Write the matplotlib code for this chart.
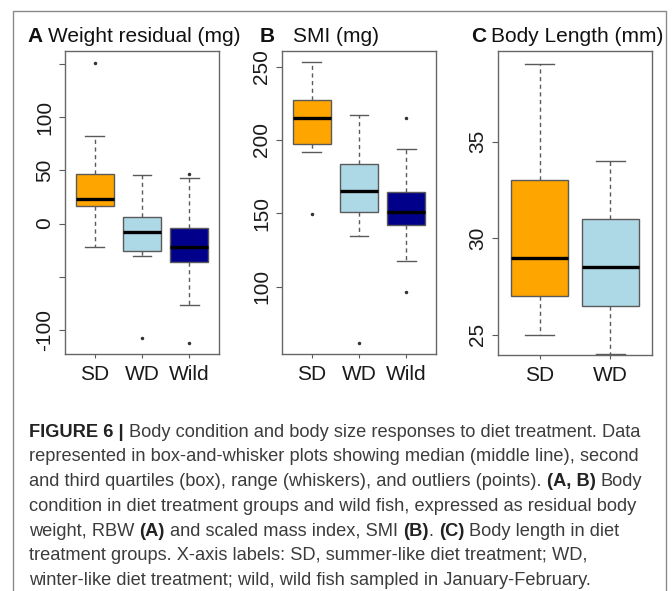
import matplotlib
matplotlib.use("Agg")
import matplotlib.pyplot as plt
from matplotlib.patches import Rectangle

plt.rcParams['font.family'] = ['Liberation Sans', 'DejaVu Sans']

# ---------------- data ----------------
labels_AB = ['SD', 'WD', 'Wild']
labels_C = ['SD', 'WD']
colors_AB = ['#FFA500', '#ADD8E6', '#00008B']
colors_C = ['#FFA500', '#ADD8E6']

A_med = [23.4, -7.5, -22.2]
A_q1 = [16.5, -26.0, -36.3]
A_q3 = [46.2, 6.5, -4.4]
A_lo = [-21.9, -30.7, -76.9]
A_hi = [81.9, 45.6, 43.1]
A_fliers = [[151.0], [-107.3], [46.5, -112.6]]

B_med = [215.0, 165.2, 151.1]
B_q1 = [197.1, 150.7, 141.8]
B_q3 = [227.1, 183.4, 164.3]
B_lo = [192.0, 134.7, 117.7]
B_hi = [253.0, 217.0, 193.9]
B_fliers = [[149.3], [61.3], [215.0, 96.6]]

C_med = [29.0, 28.5]
C_q1 = [27.0, 26.5]
C_q3 = [33.0, 31.0]
C_lo = [25.0, 24.0]
C_hi = [39.0, 34.0]
C_fliers = [[], []]

A_ticks = [-100, -50, 0, 50, 100, 150]
A_ticklabels = ['-100', '', '0', '50', '100', '']
B_ticks = [100, 150, 200, 250]
B_ticklabels = ['100', '150', '200', '250']
C_ticks = [25, 30, 35]
C_ticklabels = ['25', '30', '35']

caption_lines = [
    [("FIGURE 6 |", True), (" Body condition and body size responses to diet treatment. Data", False)],
    [("represented in box-and-whisker plots showing median (middle line), second", False)],
    [("and third quartiles (box), range (whiskers), and outliers (points). ", False), ("(A, B)", True), (" Body", False)],
    [("condition in diet treatment groups and wild fish, expressed as residual body", False)],
    [("weight, RBW ", False), ("(A)", True), (" and scaled mass index, SMI ", False), ("(B)", True), (". ", False),
     ("(C)", True), (" Body length in diet", False)],
    [("treatment groups. X-axis labels: SD, summer-like diet treatment; WD,", False)],
    [("winter-like diet treatment; wild, wild fish sampled in January-February.", False)],
]

# ---------------- figure ----------------
W, H = 672, 591
fig = plt.figure(figsize=(W / 100, H / 100), dpi=100)


def fx(px):
    return px / W


def fy(py):
    return 1 - py / H


# outer frame
fig.patches.append(Rectangle((fx(13), -0.1), fx(666) - fx(13), fy(11) + 0.1,
                             transform=fig.transFigure, fill=False,
                             edgecolor='#8a8a8a', linewidth=1.0, clip_on=False))

GRAY = '#5a5a5a'


def panel(rect, med, q1, q3, lo, hi, fliers, labels, colors, ylim, xlim, ticks, ticklabels):
    l, t, r, b = rect
    ax = fig.add_axes([fx(l), fy(b), fx(r) - fx(l), fy(t) - fy(b)])
    stats = []
    for i in range(len(med)):
        stats.append(dict(med=med[i], q1=q1[i], q3=q3[i], whislo=lo[i], whishi=hi[i],
                          fliers=fliers[i], label=labels[i]))
    bp = ax.bxp(stats, positions=list(range(1, len(med) + 1)), widths=0.8,
                patch_artist=True, capwidths=0.4,
                boxprops=dict(edgecolor=GRAY, linewidth=1.0),
                whiskerprops=dict(color=GRAY, linewidth=1.0, linestyle=(0, (3, 2.5))),
                capprops=dict(color=GRAY, linewidth=1.0),
                medianprops=dict(color='black', linewidth=2.4, solid_capstyle='butt'),
                flierprops=dict(marker='o', markersize=1.5, markerfacecolor='#333333',
                                markeredgecolor='#333333'))
    for patch, c in zip(bp['boxes'], colors):
        patch.set_facecolor(c)
    ax.set_xlim(*xlim)
    ax.set_ylim(*ylim)
    ax.set_yticks(ticks)
    ax.set_yticklabels(ticklabels, rotation=90, va='center', fontsize=15, color='#1a1a1a')
    ax.set_xticks(list(range(1, len(med) + 1)))
    ax.set_xticklabels(labels, fontsize=15, color='#1a1a1a')
    ax.tick_params(axis='y', length=4, width=0.8, color=GRAY, pad=4)
    ax.tick_params(axis='x', length=3, width=0.8, color=GRAY, pad=5)
    for s in ax.spines.values():
        s.set_color('#666666')
        s.set_linewidth(1.0)
    return ax


panel((65, 51, 219, 354), A_med, A_q1, A_q3, A_lo, A_hi, A_fliers, labels_AB, colors_AB,
      (-122.5, 162), (0.366, 3.634), A_ticks, A_ticklabels)
panel((282, 51, 436, 354), B_med, B_q1, B_q3, B_lo, B_hi, B_fliers, labels_AB, colors_AB,
      (54, 260.7), (0.366, 3.634), B_ticks, B_ticklabels)
panel((498, 51, 652, 355), C_med, C_q1, C_q3, C_lo, C_hi, C_fliers, labels_C, colors_C,
      (23.96, 39.69), (0.415, 2.585), C_ticks, C_ticklabels)

# panel titles
title_base = 41.5
for (lx, letter, tx, title) in [(27, 'A', 48, 'Weight residual (mg)'),
                                (260, 'B', 293, 'SMI (mg)'),
                                (471, 'C', 491, 'Body Length (mm)')]:
    fig.text(fx(lx), fy(title_base), letter, fontsize=15, fontweight='bold',
             va='baseline', ha='left', color='#111111')
    fig.text(fx(tx), fy(title_base), title, fontsize=15, va='baseline', ha='left',
             color='#111111')

# caption
cap_family = ['Liberation Sans Narrow', 'Liberation Sans', 'DejaVu Sans']
renderer = fig.canvas.get_renderer()


def text_width(s, size, bold):
    t = fig.text(0, 0, s, fontsize=size, fontweight='bold' if bold else 'normal',
                 family=cap_family)
    w = t.get_window_extent(renderer).width
    t.remove()
    return w


def seg_width(s, size, bold):
    # measure including leading/trailing spaces
    core = s.strip(' ')
    nlead = len(s) - len(s.lstrip(' '))
    ntrail = len(s) - len(s.rstrip(' '))
    sp = text_width('x x', size, bold) - text_width('xx', size, bold)
    w = text_width(core, size, bold) if core else 0
    return w + (nlead + ntrail) * sp, nlead * sp, core


s0 = 11.0
w0 = sum(seg_width(s, s0, b)[0] for s, b in caption_lines[0])
cap_size = s0 * 611.0 / w0

x0 = 29
base0 = 436.7
lead = 24.7
for i, line in enumerate(caption_lines):
    x = x0
    y = base0 + i * lead
    for s, bold in line:
        w, lw, core = seg_width(s, cap_size, bold)
        if core:
            fig.text(fx(x + lw), fy(y), core, fontsize=cap_size,
                     fontweight='bold' if bold else 'normal', family=cap_family,
                     color='#222222' if bold else '#3c3c3c', va='baseline', ha='left')
        x += w

fig.savefig('out.png', dpi=100)
